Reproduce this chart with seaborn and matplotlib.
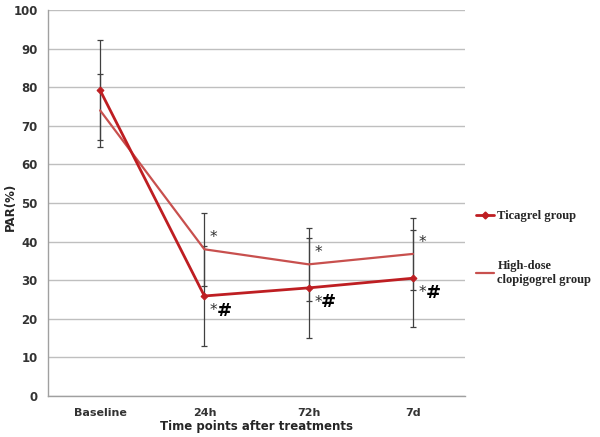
import numpy as np
import pandas as pd
import seaborn as sns
import matplotlib.pyplot as plt
from matplotlib.lines import Line2D

# data
time_points = ['Baseline', '24h', '72h', '7d']
ticagrel = [79.2, 25.9, 28.0, 30.5]
ticagrel_sd = [13.0, 13.0, 12.9, 12.6]
clopidogrel = [74.0, 38.0, 34.1, 36.8]
clopidogrel_sd = [9.5, 9.5, 9.4, 9.3]
group_names = ['Ticagrel group', 'High-dose\nclopigogrel group']
y_ticks = [0, 10, 20, 30, 40, 50, 60, 70, 80, 90, 100]

df = pd.DataFrame({
    'time': time_points * 2,
    'par': ticagrel + clopidogrel,
    'group': [group_names[0]] * 4 + [group_names[1]] * 4,
})

sns.set_style('white')
plt.rcParams['font.family'] = ['DejaVu Sans']

col_tic = '#BE1E22'
col_clo = '#C8504E'

fig = plt.figure(figsize=(6, 4.37), dpi=100)
ax = fig.add_axes([0.08, 0.094, 0.695, 0.883])

# error bars first so lines are on top
xpos = np.arange(len(time_points))
ax.errorbar(xpos, ticagrel, yerr=ticagrel_sd, fmt='none', ecolor='#404040',
            elinewidth=0.9, capsize=2.5, capthick=0.9, zorder=2)
ax.errorbar(xpos, clopidogrel, yerr=clopidogrel_sd, fmt='none', ecolor='#404040',
            elinewidth=0.9, capsize=2.5, capthick=0.9, zorder=2)

sns.lineplot(data=df[df.group == group_names[1]], x='time', y='par', ax=ax,
             color=col_clo, linewidth=1.6, legend=False, sort=False, zorder=3)
sns.lineplot(data=df[df.group == group_names[0]], x='time', y='par', ax=ax,
             color=col_tic, linewidth=2.0, marker='D', markersize=3.5,
             markeredgecolor=col_tic, legend=False, sort=False, zorder=4)

# significance marks (after treatment only)
for i in range(1, len(time_points)):
    ax.annotate('*', (xpos[i], clopidogrel[i]), xytext=(4, 3), textcoords='offset points',
                fontsize=11, color='#303030', ha='left', va='bottom')
    ax.annotate('*', (xpos[i], ticagrel[i]), xytext=(4, -5), textcoords='offset points',
                fontsize=11, color='#303030', ha='left', va='top')
    ax.annotate('#', (xpos[i], ticagrel[i]), xytext=(9, -4), textcoords='offset points',
                fontsize=13, fontweight='bold', color='black', ha='left', va='top')

ax.set_ylim(0, 100)
ax.set_xlim(-0.5, 3.5)
ax.set_yticks(y_ticks)
ax.set_xticks(xpos)
ax.set_xticks(np.arange(-0.5, 4, 1), minor=True)
ax.grid(axis='y', color='#BFBFBF', linewidth=1.0)
ax.grid(axis='x', visible=False)
ax.tick_params(axis='x', which='major', length=0, pad=9, labelsize=8, colors='#333333')
ax.tick_params(axis='x', which='minor', length=4, width=1, color='#A0A0A0', direction='out')
ax.tick_params(axis='y', length=4, width=1, color='#A0A0A0', direction='out',
               labelsize=8.5, colors='#333333')
for lab in ax.get_yticklabels() + ax.get_xticklabels():
    lab.set_fontweight('bold')

for s in ['top', 'right']:
    ax.spines[s].set_visible(False)
for s in ['left', 'bottom']:
    ax.spines[s].set_color('#A0A0A0')
    ax.spines[s].set_linewidth(1.0)

ax.set_ylabel('PAR(%)', fontsize=8.5, fontweight='bold')
ax.yaxis.set_label_coords(-0.074, 0.49)
ax.set_xlabel('Time points after treatments', fontsize=8.5, fontweight='bold', labelpad=1)

handles = [Line2D([], [], color=col_tic, linewidth=2.0, marker='D', markersize=3.5),
           Line2D([], [], color=col_clo, linewidth=1.6)]
ax.legend(handles, group_names, loc='upper left', bbox_to_anchor=(1.0, 0.51),
          frameon=False, handlelength=1.4, handletextpad=0.3, labelspacing=3.0,
          borderaxespad=0.5, prop={'family': 'Liberation Serif', 'weight': 'bold', 'size': 9})

fig.savefig('out.png', dpi=100)
